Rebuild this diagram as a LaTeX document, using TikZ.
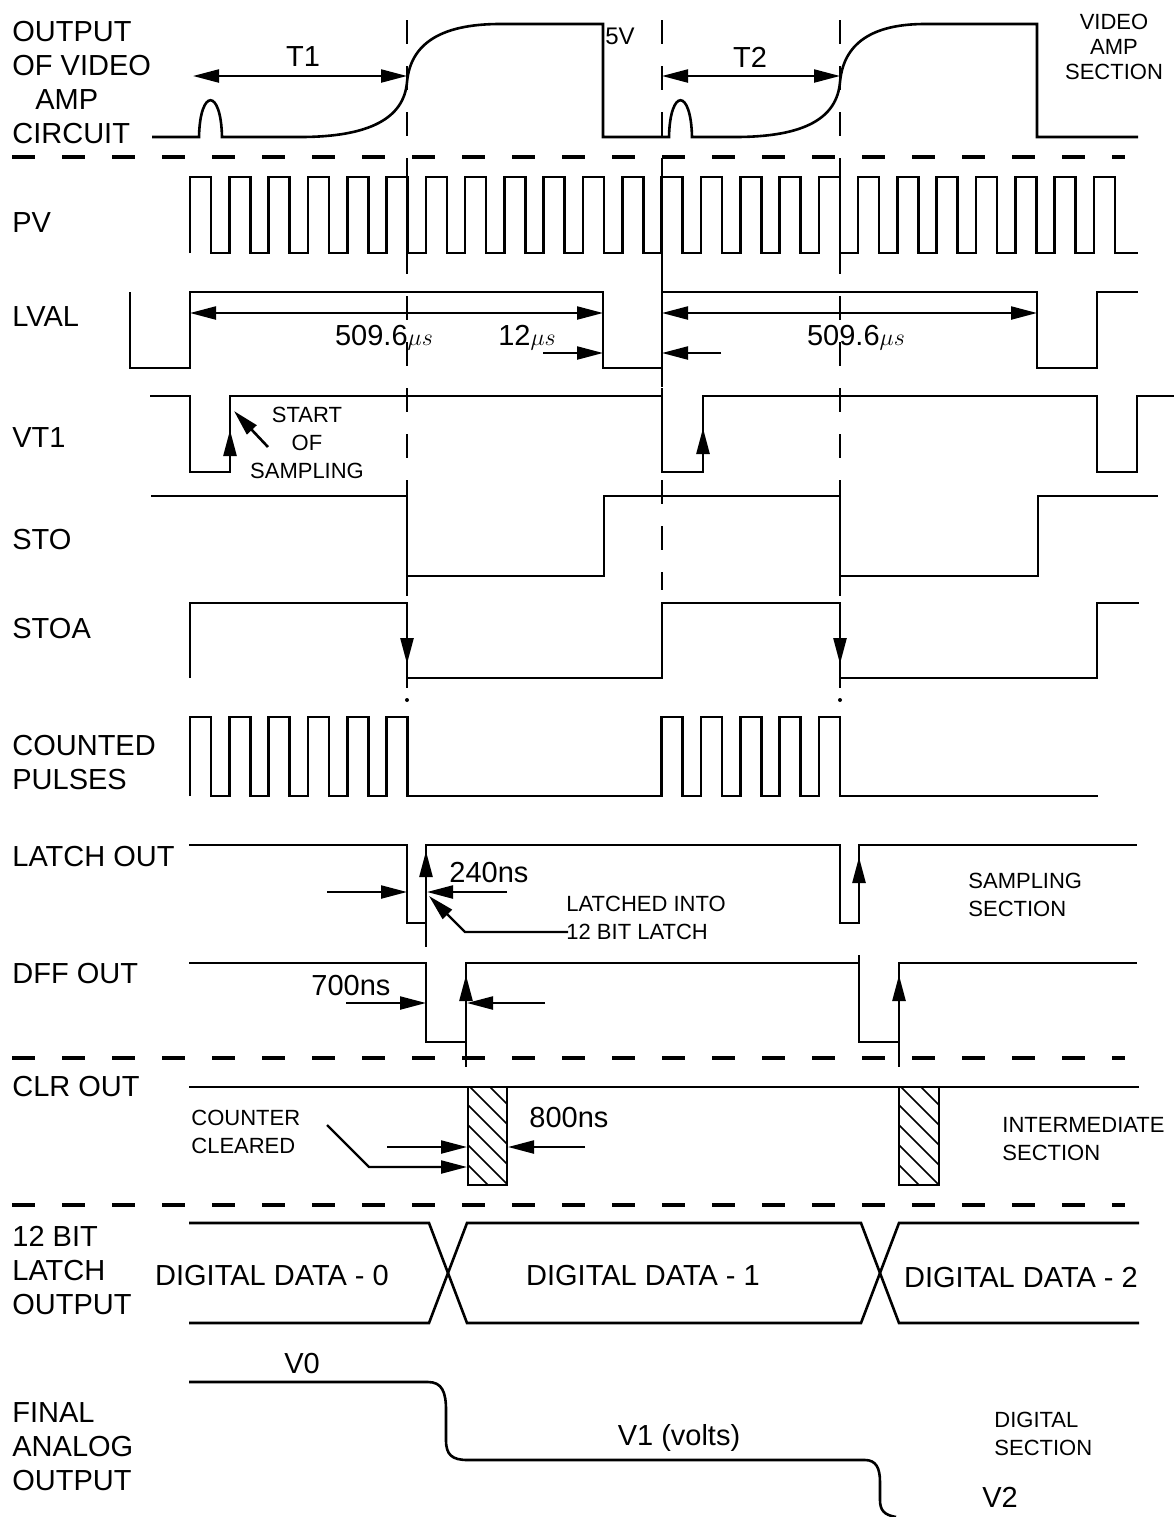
\documentclass[tikz,border=0pt]{standalone}
\usepackage{fontspec}
\setmainfont{Liberation Sans}
\usetikzlibrary{arrows.meta}

\tikzset{
  wave/.style={line width=1.3pt, line join=miter},
  guideline/.style={line width=1pt, dash pattern=on 12pt off 11pt},
  sepline/.style={line width=2.2pt, dash pattern=on 11.5pt off 13.5pt},
  arr/.style={line width=1.1pt, -{Triangle[length=13pt,width=6.5pt]}},
  dimarr/.style={line width=1.1pt, {Triangle[length=13pt,width=6.5pt]}-{Triangle[length=13pt,width=6.5pt]}},
  lbl/.style={anchor=west, inner sep=0pt, align=left, font=\fontsize{14.5}{17}\selectfont},
  txt/.style={inner sep=0pt, font=\fontsize{14.5}{17}\selectfont},
  note/.style={inner sep=0pt, align=left, font=\fontsize{11}{14}\selectfont},
}
\def\pvp{39.3}
\def\pvw{21}
\newcommand{\usec}{{\fontsize{12}{12}\selectfont$\mu s$}}

\begin{document}
\begin{tikzpicture}[x=0.5pt,y=0.5pt,yscale=-1,xscale=1]
\useasboundingbox (0,0) rectangle (1176,1517);

%Section separators
\draw[sepline] (12,157) -- (1125,157);
\draw[sepline] (12,1058) -- (1125,1058);
\draw[sepline] (12,1205) -- (1125,1205);

%Guide lines
\draw[guideline] (407,20) -- (407,700);
\draw[guideline] (662,20) -- (662,590);
\draw[guideline] (840,20) -- (840,700);
\fill (407,700) circle[radius=1pt];
\fill (840,700) circle[radius=1pt];

%Video amp output
\draw[wave] (152,137) -- (199,137) .. controls (200,88) and (221,88) .. (222,137) -- (300,137) .. controls (370,137) and (404,118) .. (407,82) .. controls (411,38) and (450,24) .. (500,24) -- (603,24) -- (603,137) -- (669,137) .. controls (670,88) and (691,88) .. (692,137) -- (735,137) .. controls (805,137) and (837,118) .. (840,82) .. controls (844,38) and (880,24) .. (925,24) -- (1037,24) -- (1037,137) -- (1138,137);
\draw[dimarr] (193,76) -- (407,76);
\draw[dimarr] (662,76) -- (840,76);

%PV
\draw[wave] (190,253) \foreach \k in {0,...,23} { -- ({190+\pvp*\k},253) -- ({190+\pvp*\k},177) -- ({190+\pvw+\pvp*\k},177) -- ({190+\pvw+\pvp*\k},253) } -- (1138,253);

%LVAL
\draw[wave] (130,292) -- (130,368) -- (190,368) -- (190,292) -- (603,292) -- (603,368) -- (662,368) -- (662,292) -- (1037,292) -- (1037,368) -- (1097,368) -- (1097,292) -- (1138,292);
\draw[wave] (662,253) -- (662,387);
\draw[dimarr] (190,313) -- (603,313);
\draw[dimarr] (662,313) -- (1037,313);
\draw[arr] (543,353) -- (603,353);
\draw[arr] (721,353) -- (662,353);

%VT1
\draw[wave] (150,396) -- (190,396) -- (190,472) -- (230,472) -- (230,396) -- (662,396) -- (662,472) -- (703,472) -- (703,396) -- (1097,396) -- (1097,472) -- (1137,472) -- (1137,396) -- (1174,396);
\draw[arr, line width=1.3pt] (230,470) -- (230,430);
\draw[arr, line width=1.3pt] (703,470) -- (703,428);
\draw[arr, line width=1.3pt] (268,447) -- (234,411);

%STO
\draw[wave] (151,496) -- (407,496) -- (407,576) -- (604,576) -- (604,496) -- (840,496) -- (840,576) -- (1038,576) -- (1038,496) -- (1158,496);

%STOA
\draw[wave] (190,678) -- (190,603) -- (407,603) -- (407,678) -- (662,678) -- (662,603) -- (840,603) -- (840,678) -- (1097,678) -- (1097,603) -- (1139,603);
\draw[arr, line width=1.3pt] (407,612) -- (407,664);
\draw[arr, line width=1.3pt] (840,612) -- (840,664);

%Counted pulses
\draw[wave] (190,796) \foreach \k in {0,...,5} { -- ({190+\pvp*\k},796) -- ({190+\pvp*\k},717) -- ({190+\pvw+\pvp*\k},717) -- ({190+\pvw+\pvp*\k},796) } \foreach \k in {12,...,16} { -- ({190+\pvp*\k},796) -- ({190+\pvp*\k},717) -- ({190+\pvw+\pvp*\k},717) -- ({190+\pvw+\pvp*\k},796) } -- (1098,796);

%Latch out
\draw[wave] (189,845) -- (407,845) -- (407,923) -- (426,923) -- (426,845) -- (840,845) -- (840,923) -- (859,923) -- (859,845) -- (1137,845);
\draw[wave] (426,923) -- (426,947);
\draw[arr, line width=1.3pt] (426,905) -- (426,851);
\draw[arr, line width=1.3pt] (859,910) -- (859,857);
\draw[arr] (327,892) -- (407,892);
\draw[arr] (507,892) -- (427,892);
\draw[arr] (568,932) -- (465,932) -- (429,896);

%DFF out
\draw[wave] (189,963) -- (426,963) -- (426,1042) -- (466,1042) -- (466,963) -- (859,963) -- (859,1042) -- (899,1042) -- (899,963) -- (1137,963);
\draw[wave] (859,955) -- (859,963);
\draw[wave] (466,1042) -- (466,1067);
\draw[wave] (899,1042) -- (899,1067);
\draw[arr, line width=1.3pt] (466,1012) -- (466,975);
\draw[arr, line width=1.3pt] (899,1012) -- (899,975);
\draw[arr] (346,1003) -- (426,1003);
\draw[arr] (545,1003) -- (467,1003);

%CLR out
\draw[wave] (189,1087) -- (1139,1087);
\draw[wave] (468,1087) rectangle (507,1185);
\draw[wave] (899,1087) rectangle (939,1185);
\begin{scope}
\clip (468,1087) rectangle (507,1185);
\foreach \k in {-2,...,5} \draw[line width=0.8pt] (468,{1085+20*\k}) -- (508,{1125+20*\k});
\end{scope}
\begin{scope}
\clip (899,1087) rectangle (939,1185);
\foreach \k in {-2,...,5} \draw[line width=0.8pt] (899,{1085+20*\k}) -- (940,{1126+20*\k});
\end{scope}
\draw[arr] (387,1147) -- (467,1147);
\draw[arr] (585,1147) -- (508,1147);
\draw[arr] (327,1125) -- (369,1167) -- (467,1167);

%12 bit latch output
\draw[wave] (189,1223) -- (429,1223) -- (467,1323) -- (861,1323) -- (899,1223) -- (1139,1223);
\draw[wave] (189,1323) -- (429,1323) -- (467,1223) -- (861,1223) -- (899,1323) -- (1139,1323);

%Final analog output
\draw[wave] (189,1382) -- (428,1382) .. controls (442,1382) and (446,1392) .. (446,1410) -- (446,1440) .. controls (446,1455) and (452,1460) .. (468,1460) -- (865,1460) .. controls (876,1460) and (880,1468) .. (880,1482) -- (880,1500) .. controls (880,1510) and (884,1515) .. (896,1517);

% Text Node
\node[lbl] (vidlbl) at (12,83) {OUTPUT\\OF VIDEO\\\hspace*{11.5pt}AMP\\CIRCUIT};
\node[lbl] (pvlbl) at (12,223) {PV};
\node[lbl] (lvallbl) at (12,317) {LVAL};
\node[lbl] (vtlbl) at (12,438) {VT1};
\node[lbl] (stolbl) at (12,540) {STO};
\node[lbl] (stoalbl) at (12,629) {STOA};
\node[lbl] (cntlbl) at (12,763) {COUNTED\\PULSES};
\node[lbl] (latchlbl) at (12,857) {LATCH OUT};
\node[lbl] (dfflbl) at (12,974) {DFF OUT};
\node[lbl] (clrlbl) at (12,1087) {CLR OUT};
\node[lbl] (buslbl) at (12,1270) {12 BIT\\LATCH\\OUTPUT};
\node[lbl] (anlbl) at (12,1447) {FINAL\\ANALOG\\OUTPUT};
% Text Node
\node[note, align=center, font=\fontsize{11}{12.5}\selectfont] (vidsec) at (1114,47) {VIDEO\\AMP\\SECTION};
\node[note, anchor=west] (smpsec) at (968,895) {SAMPLING\\SECTION};
\node[note, anchor=west] (intsec) at (1002,1139) {INTERMEDIATE\\SECTION};
\node[note, anchor=west] (digsec) at (994,1434) {DIGITAL\\SECTION};
\node[note, align=center] (startlbl) at (307,443) {START\\OF\\SAMPLING};
\node[note, anchor=west] (cntclr) at (191,1132) {COUNTER\\CLEARED};
\node[note, anchor=west] (latched) at (566,918) {LATCHED INTO\\12 BIT LATCH};
% Text Node
\node[txt] (t1lbl) at (303,57) {T1};
\node[txt] (t2lbl) at (750,57) {T2};
\node[txt, font=\fontsize{12}{12}\selectfont] (fivev) at (620,36) {5V};
\node[txt] (lv1) at (384,338) {509.6\usec};
\node[txt] (twelve) at (527,338) {12\usec};
\node[txt] (lv2) at (856,338) {509.6\usec};
\node[txt] (ns240) at (489,873) {240ns};
\node[txt] (ns700) at (351,986) {700ns};
\node[txt] (ns800) at (569,1117) {800ns};
\node[txt] (dd0) at (272,1275) {DIGITAL DATA - 0};
\node[txt] (dd1) at (643,1275) {DIGITAL DATA - 1};
\node[txt] (dd2) at (1021,1277) {DIGITAL DATA - 2};
\node[txt] (v0) at (302,1363) {V0};
\node[txt] (v1) at (679,1438) {V1 (volts)};
\node[txt] (v2) at (1000,1497) {V2};

\end{tikzpicture}
\end{document}
